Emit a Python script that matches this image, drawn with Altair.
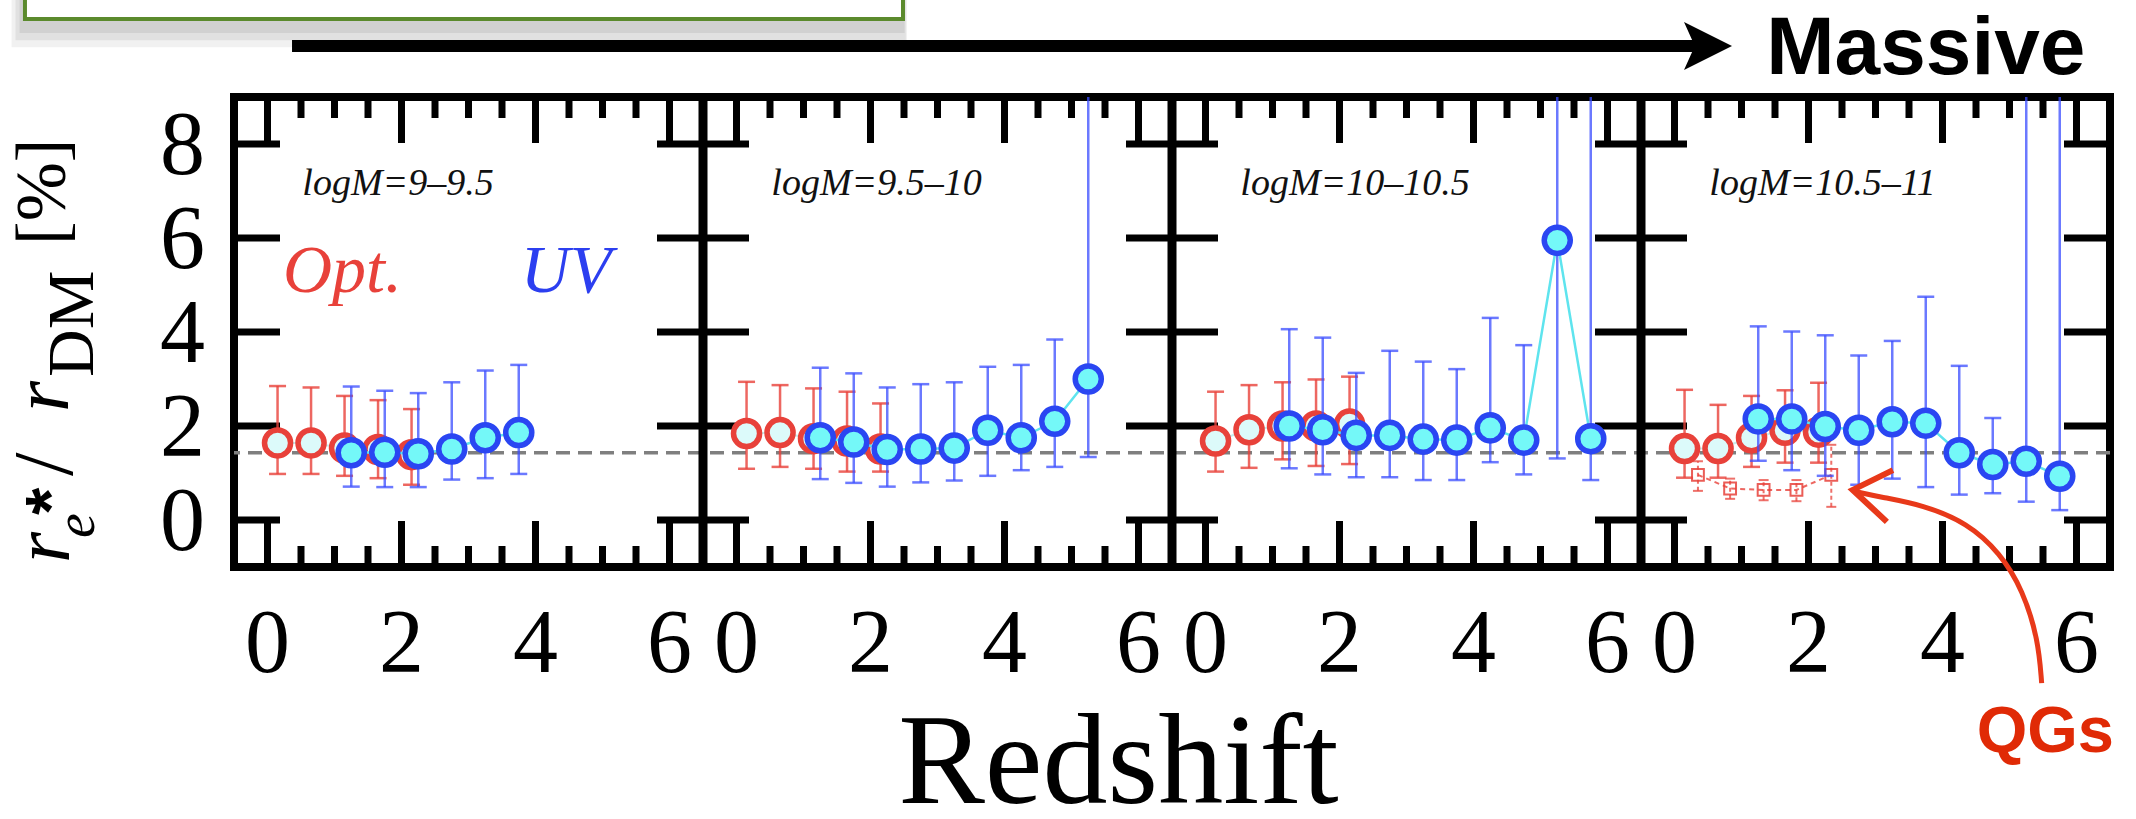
import altair as alt
import pandas as pd

# ------------------------------------------------------------------
# Values
# ------------------------------------------------------------------
panel_names = ["logM=9–9.5", "logM=9.5–10", "logM=10–10.5", "logM=10.5–11"]

# optical sizes (red circles)
opt_z = [0.15, 0.65, 1.15, 1.65, 2.15]
opt_val = [
    [1.64, 1.64, 1.53, 1.50, 1.39],
    [1.84, 1.86, 1.73, 1.68, 1.51],
    [1.68, 1.92, 2.00, 2.00, 2.04],
    [1.52, 1.52, 1.75, 1.91, 1.87],
]
opt_lo = [
    [0.98, 0.98, 0.94, 0.89, 0.75],
    [1.09, 1.13, 1.09, 1.03, 1.03],
    [1.03, 1.11, 1.29, 1.15, 1.19],
    [0.90, 0.90, 1.13, 1.22, 1.22],
]
opt_hi = [
    [2.85, 2.82, 2.64, 2.55, 2.36],
    [2.94, 2.87, 2.80, 2.73, 2.48],
    [2.73, 2.87, 2.93, 2.99, 3.05],
    [2.77, 2.45, 2.64, 2.76, 2.92],
]

# UV sizes (blue circles); 12 marks an upper error that leaves the frame
uv_z = [1.25, 1.75, 2.25, 2.75, 3.25, 3.75, 4.25, 4.75, 5.25, 5.75]
uv_val = [
    [1.43, 1.44, 1.41, 1.51, 1.75, 1.86],
    [1.75, 1.66, 1.50, 1.51, 1.53, 1.91, 1.75, 2.10, 3.00],
    [2.00, 1.92, 1.80, 1.80, 1.72, 1.70, 1.96, 1.70, 5.95, 1.73],
    [2.15, 2.15, 1.99, 1.91, 2.09, 2.06, 1.43, 1.18, 1.25, 0.93],
]
uv_lo = [
    [0.71, 0.70, 0.70, 0.86, 0.89, 0.98],
    [0.87, 0.79, 0.71, 0.80, 0.84, 0.94, 1.06, 1.13, 1.34],
    [1.10, 0.97, 0.91, 0.91, 0.85, 0.85, 1.23, 0.97, 1.31, 0.85],
    [1.26, 1.06, 0.94, 0.75, 0.88, 0.70, 0.54, 0.57, 0.39, 0.21],
]
uv_hi = [
    [2.84, 2.75, 2.70, 2.93, 3.18, 3.30],
    [3.24, 3.12, 2.82, 2.89, 2.93, 3.26, 3.30, 3.84, 12.0],
    [4.06, 3.88, 3.13, 3.60, 3.37, 3.21, 4.30, 3.72, 12.0, 12.0],
    [4.12, 4.01, 3.93, 3.50, 3.81, 4.75, 3.28, 2.17, 12.0, 12.0],
]

# quiescent galaxies, most massive bin only
qg_panel = 3
qg_z = [0.35, 0.83, 1.33, 1.82, 2.34]
qg_val = [0.96, 0.67, 0.64, 0.64, 0.96]
qg_lo = [0.62, 0.45, 0.42, 0.40, 0.28]
qg_hi = [1.25, 0.88, 0.85, 0.85, 1.60]

ref_level = [1.43]

# axis ticks and their labels
x_major = [0, 2, 4, 6]
x_minor = [0.5, 1, 1.5, 2.5, 3, 3.5, 4.5, 5, 5.5]
y_major = [0, 2, 4, 6, 8]

# ------------------------------------------------------------------
# Tables
# ------------------------------------------------------------------
N = len(panel_names)
SPAN = 7  # redshift units taken by one panel (-0.5 .. 6.5)


def series(zs, vals, los, his):
    rows = []
    for k, (v, lo, hi) in enumerate(zip(vals, los, his)):
        for z, a, b, c in zip(zs, v, lo, hi):
            rows.append({"panel": k, "z": z, "val": a, "lo": b, "hi": c})
    return pd.DataFrame(rows)


opt_df = series(opt_z, opt_val, opt_lo, opt_hi)
uv_df = series(uv_z, uv_val, uv_lo, uv_hi)
qg_df = pd.DataFrame({"panel": qg_panel, "z": qg_z, "val": qg_val,
                      "lo": qg_lo, "hi": qg_hi})

xt_major = pd.DataFrame([{"panel": k, "z": z, "edge": e}
                         for k in range(N) for z in x_major for e in (-1, 9)])
xt_minor = pd.DataFrame([{"panel": k, "z": z, "edge": e}
                         for k in range(N) for z in x_minor for e in (-1, 9)])
edges = [{"panel": k, "z": -0.5} for k in range(N)] + [{"panel": N - 1, "z": 6.5}]
yt = pd.DataFrame([dict(e, v=v) for e in edges for v in y_major])
seps = pd.DataFrame([{"panel": k, "z": 6.5, "lo": -1, "hi": 9} for k in range(N - 1)])
xlab = pd.DataFrame([{"panel": k, "z": z, "lab": str(z)} for k in range(N) for z in x_major])
ylab = pd.DataFrame({"panel": 0, "z": -0.5, "v": y_major, "lab": [str(v) for v in y_major]})
names_df = pd.DataFrame({"panel": range(N), "name": panel_names, "z": 0.52})
ref_df = pd.DataFrame({"val": ref_level})
one = pd.DataFrame({"k": [0]})

xs = alt.Scale(domain=[-0.5, SPAN * N - 0.5], nice=False, zero=False)
ys = alt.Scale(domain=[-1, 9], nice=False, zero=False)
XP = f"datum.z + {SPAN} * datum.panel"

RED = "#e8413a"
RED_FILL = "#dcfafa"
BLUE = "#2a46f2"
BLUE_FILL = "#74f8f8"
SERIF = "Liberation Serif"
SANS = "Liberation Sans"


def base(df):
    return alt.Chart(df).transform_calculate(xp=XP)


def X():
    return alt.X("xp:Q", scale=xs, axis=None)


def Yf(f):
    return alt.Y(f"{f}:Q", scale=ys, axis=None)


def DX(v):
    return alt.X(datum=v, type="quantitative", scale=xs, axis=None)


def DX2(v):
    return alt.X2(datum=v)


def DY(v):
    return alt.Y(datum=v, type="quantitative", scale=ys, axis=None)


def DY2(v):
    return alt.Y2(datum=v)


layers = []

# ---- slide decorations above the panels ----------------------------
for dx, dy, op in [(0.20, 0.60, 0.10), (0.14, 0.45, 0.12), (0.08, 0.30, 0.15)]:
    layers.append(alt.Chart(one).mark_rect(color="#777777", opacity=op).encode(
        x=DX(-3.62 - dx), x2=DX2(9.485 + dx * 0.3),
        y=DY(11.7), y2=DY2(10.66 - dy)))
layers.append(alt.Chart(one).mark_rect(fill="white", stroke="#5b8a2d", strokeWidth=4).encode(
    x=DX(-3.62), x2=DX2(9.485), y=DY(11.7), y2=DY2(10.66)))
layers.append(alt.Chart(one).mark_rule(color="black", strokeWidth=12).encode(
    x=DX(0.366), x2=DX2(21.38), y=DY(10.085)))
layers.append(alt.Chart(one).mark_point(
    shape="M-1,-1L1,0L-1,1L-0.55,0Z", filled=True, color="black", size=2304, opacity=1
).encode(x=DX(21.5), y=DY(10.085)))
layers.append(alt.Chart(one).mark_text(
    text="Massive", font=SANS, fontWeight="bold", fontSize=82, align="left",
    baseline="alphabetic", color="black"
).encode(x=DX(22.37), y=DY(9.50)))

# ---- reference level ------------------------------------------------
layers.append(alt.Chart(ref_df).mark_rule(
    color="#7f7f7f", strokeWidth=3.5, strokeDash=[14, 8]).encode(y=Yf("val")))

# ---- frame furniture: separators, inward ticks, tick labels -----------
layers.append(base(seps).mark_rule(color="black", strokeWidth=9).encode(
    x=X(), y=Yf("lo"), y2="hi:Q"))
layers.append(base(xt_major).mark_tick(
    orient="vertical", size=92, thickness=7, color="black", clip=True, opacity=1
).encode(x=X(), y=Yf("edge")))
layers.append(base(xt_minor).mark_tick(
    orient="vertical", size=42, thickness=7, color="black", clip=True, opacity=1
).encode(x=X(), y=Yf("edge")))
layers.append(base(yt).mark_tick(
    orient="horizontal", size=92, thickness=7, color="black", clip=True, opacity=1
).encode(x=X(), y=Yf("v")))
layers.append(base(xlab).mark_text(
    font=SERIF, fontSize=90, align="center", baseline="alphabetic", dy=105, color="black"
).encode(x=X(), y=DY(-1), text="lab:N"))
layers.append(base(ylab).mark_text(
    font=SERIF, fontSize=90, align="right", baseline="alphabetic", dx=-29, dy=30,
    color="black").encode(x=X(), y=Yf("v"), text="lab:N"))

# ---- data -------------------------------------------------------------


def errorbars(df, color, op, dash=None, cap=17, width=2.5):
    kw = {"strokeDash": dash} if dash else {}
    bars = base(df).mark_rule(color=color, strokeWidth=width, opacity=op, clip=True, **kw).encode(
        x=X(), y=Yf("lo"), y2="hi:Q")
    caps = base(df).transform_fold(["lo", "hi"], as_=["end", "e"]).mark_tick(
        orient="horizontal", size=cap, thickness=width, color=color, opacity=op, clip=True
    ).encode(x=X(), y=Yf("e"))
    return [bars, caps]


layers += errorbars(opt_df, RED, 0.8)
layers.append(base(opt_df).mark_line(color="#c4eeee", strokeWidth=2).encode(
    x=X(), y=Yf("val"), detail="panel:N", order="z:Q"))
layers.append(base(opt_df).mark_point(
    shape="circle", filled=True, fill=RED_FILL, stroke=RED, strokeWidth=5.5,
    size=680, opacity=1).encode(x=X(), y=Yf("val")))

layers += errorbars(qg_df, RED, 0.75, dash=[4, 3], cap=10, width=2)
layers.append(base(qg_df).mark_line(color=RED, strokeWidth=2, strokeDash=[5, 4], opacity=0.8).encode(
    x=X(), y=Yf("val"), order="z:Q"))
layers.append(base(qg_df).mark_point(
    shape="square", filled=False, stroke=RED, strokeWidth=2, size=140, opacity=0.85
).encode(x=X(), y=Yf("val")))

layers += errorbars(uv_df, "#3a4cff", 0.75)
layers.append(base(uv_df).mark_line(color="#5ee4ee", strokeWidth=2.5).encode(
    x=X(), y=Yf("val"), detail="panel:N", order="z:Q"))
layers.append(base(uv_df).mark_point(
    shape="circle", filled=True, fill=BLUE_FILL, stroke=BLUE, strokeWidth=5.5,
    size=680, opacity=1).encode(x=X(), y=Yf("val")))

# ---- panel texts -------------------------------------------------------
layers.append(base(names_df).mark_text(
    font=SERIF, fontStyle="italic", fontSize=38, align="left", baseline="alphabetic",
    color="#111111").encode(x=X(), y=DY(6.91), text="name:N"))
layers.append(alt.Chart(one).mark_text(
    text="Opt.", font=SERIF, fontStyle="italic", fontSize=68, align="left",
    baseline="alphabetic", color=RED).encode(x=DX(0.23), y=DY(4.85)))
layers.append(alt.Chart(one).mark_text(
    text="UV", font=SERIF, fontStyle="italic", fontSize=68, align="left",
    baseline="alphabetic", color="#2c3ff0").encode(x=DX(3.78), y=DY(4.85)))

# ---- axis titles ---------------------------------------------------------
layers.append(alt.Chart(one).mark_text(
    text="Redshift", font=SERIF, fontSize=130, align="center", baseline="alphabetic",
    color="black").encode(x=DX(12.7), y=DY(-6.02)))

ytitle = [
    ("r", "italic", "normal", SERIF, 80, -2.963, -0.915),
    ("e", "italic", "normal", SERIF, 56, -2.59, -0.383),
    ("*", "normal", "bold", SANS, 70, -2.873, 0.106),
    ("/", "normal", "normal", SERIF, 85, -2.918, 0.936),
    ("r", "italic", "normal", SERIF, 80, -2.978, 2.298),
    ("DM", "normal", "normal", SERIF, 66, -2.604, 3.043),
    ("[%]", "normal", "normal", SERIF, 71, -3.022, 5.851),
]
for txt, style, weight, font, size, px, py in ytitle:
    layers.append(alt.Chart(one).mark_text(
        text=txt, font=font, fontStyle=style, fontWeight=weight, fontSize=size,
        angle=270, align="left", baseline="alphabetic", color="black"
    ).encode(x=DX(px), y=DY(py)))

# ---- QGs call-out ------------------------------------------------------
curve_x = [26.48, 26.43, 26.20, 25.86, 25.37, 24.71, 24.07, 23.72]
curve_y = [-3.47, -2.55, -1.49, -0.70, -0.06, 0.32, 0.49, 0.60]
curve = pd.DataFrame({"xp": curve_x, "yv": curve_y, "i": range(len(curve_x))})
layers.append(alt.Chart(curve).mark_line(
    color="#e8391a", strokeWidth=5, interpolate="basis").encode(
    x=X(), y=Yf("yv"), order="i:Q"))
head = pd.DataFrame({"xp": [24.26, 23.66, 24.17], "yv": [1.06, 0.64, -0.04], "i": [0, 1, 2]})
layers.append(alt.Chart(head).mark_line(
    color="#e8391a", strokeWidth=6, strokeJoin="miter").encode(
    x=X(), y=Yf("yv"), order="i:Q"))
layers.append(alt.Chart(one).mark_text(
    text="QGs", font=SANS, fontWeight="bold", fontSize=65, align="left",
    baseline="alphabetic", color="#e02a06").encode(x=DX(25.51), y=DY(-4.936)))

chart = alt.layer(*layers).properties(
    width=1876, height=470,
    autosize=alt.AutoSizeParams(type="none"),
    padding={"left": 234, "top": 97, "right": 26, "bottom": 252},
    background="white",
).configure_view(stroke="black", strokeWidth=8)

chart.save("out.html", embed_options={"renderer": "svg", "actions": False})
